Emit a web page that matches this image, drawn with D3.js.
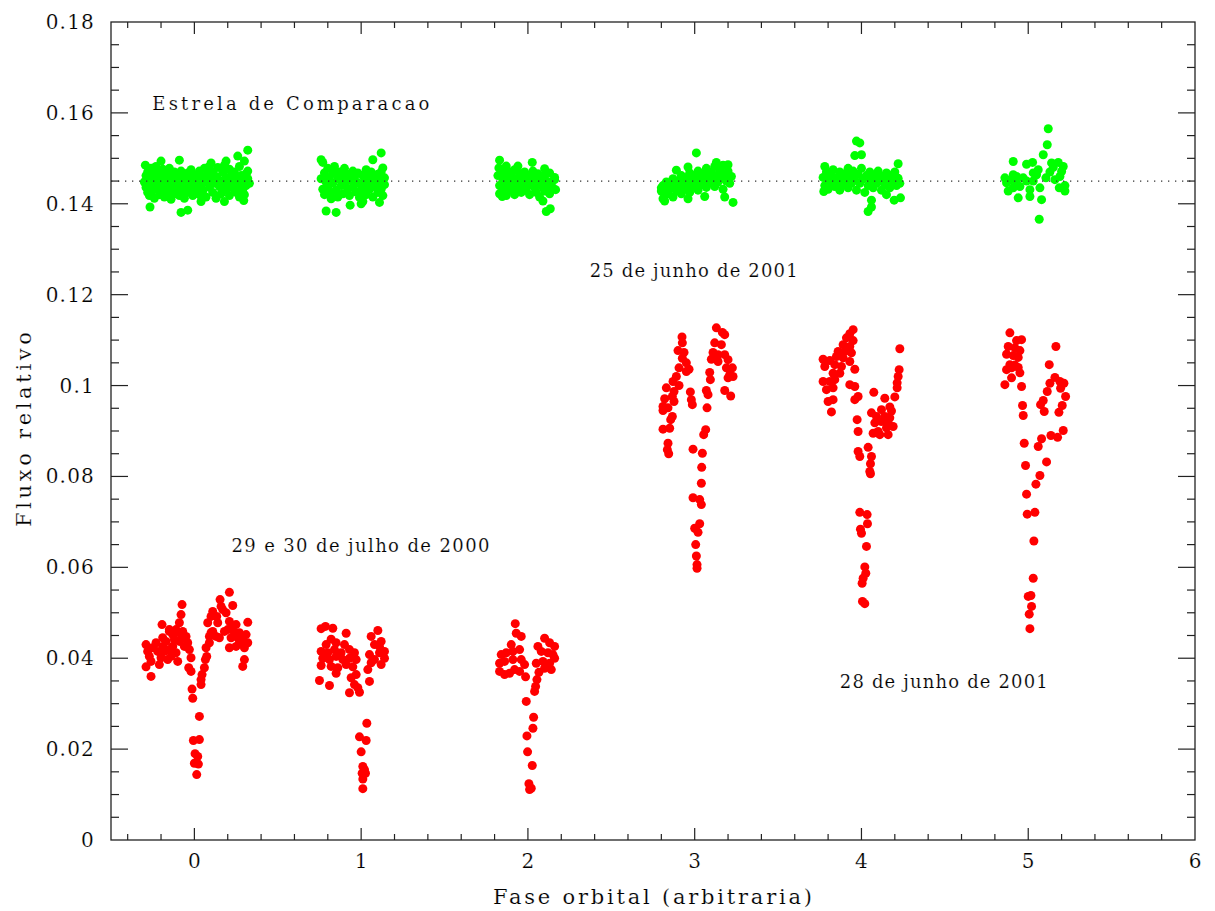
<!DOCTYPE html>
<html>
<head>
<meta charset="utf-8">
<script src="https://cdn.jsdelivr.net/npm/d3@7"></script>
<style>
  html, body { margin: 0; padding: 0; background: #fff; }
  svg text { font-family: "DejaVu Serif", "Liberation Serif", serif; fill: #000; stroke: #fff; stroke-width: 0.18px; }
</style>
</head>
<body>
<svg id="chart" width="1215" height="911"></svg>
<script>
// Axis ticks
const phaseTicks = [0, 1, 2, 3, 4, 5, 6];
const fluxTicks = [0, 0.02, 0.04, 0.06, 0.08, 0.1, 0.12, 0.14, 0.16, 0.18];
const fluxTickLabels = ["0", "0.02", "0.04", "0.06", "0.08", "0.1", "0.12", "0.14", "0.16", "0.18"];

// Mean level of the comparison star
const compLevel = 0.145;

// Comparison star, one cycle per array: [phase, relative flux]
const comp0 = [
  [-0.30,0.1448],[-0.29,0.1436],[-0.29,0.1462],[-0.28,0.1425],[-0.28,0.1470],[-0.27,0.1452],[-0.27,0.1418],[-0.26,0.1440],
  [-0.26,0.1478],[-0.25,0.1430],[-0.25,0.1458],[-0.24,0.1467],[-0.24,0.1412],[-0.23,0.1445],[-0.23,0.1482],[-0.22,0.1433],
  [-0.22,0.1455],[-0.21,0.1420],[-0.21,0.1470],[-0.20,0.1442],[-0.20,0.1460],[-0.19,0.1428],[-0.19,0.1476],[-0.18,0.1450],
  [-0.18,0.1415],[-0.17,0.1438],[-0.17,0.1465],[-0.16,0.1425],[-0.16,0.1455],[-0.15,0.1445],[-0.15,0.1478],[-0.14,0.1432],
  [-0.14,0.1410],[-0.13,0.1460],[-0.13,0.1440],[-0.12,0.1470],[-0.12,0.1422],[-0.11,0.1450],[-0.10,0.1435],[-0.10,0.1465],
  [-0.09,0.1418],[-0.08,0.1448],[-0.08,0.1472],[-0.07,0.1430],[-0.06,0.1458],[-0.06,0.1412],[-0.05,0.1442],[-0.04,0.1468],
  [-0.04,0.1425],[-0.03,0.1452],[-0.02,0.1436],[-0.02,0.1475],[-0.01,0.1418],[0.00,0.1446],[0.00,0.1462],[0.01,0.1430],
  [0.02,0.1455],[0.03,0.1472],[0.03,0.1420],[0.04,0.1440],[0.05,0.1460],[0.05,0.1428],[0.06,0.1478],[0.07,0.1448],
  [0.07,0.1415],[0.08,0.1466],[0.09,0.1436],[0.09,0.1482],[0.10,0.1455],[0.11,0.1425],[0.11,0.1470],[0.12,0.1445],
  [0.13,0.1460],[0.13,0.1412],[0.14,0.1480],[0.15,0.1438],[0.15,0.1452],[0.16,0.1422],[0.17,0.1470],[0.17,0.1446],
  [0.18,0.1485],[0.19,0.1430],[0.19,0.1458],[0.20,0.1442],[0.21,0.1476],[0.21,0.1418],[0.22,0.1462],[0.23,0.1435],
  [0.23,0.1450],[0.24,0.1470],[0.25,0.1425],[0.25,0.1456],[0.26,0.1440],[0.27,0.1482],[0.27,0.1415],[0.28,0.1462],
  [0.29,0.1432],[0.29,0.1450],[0.30,0.1420],[0.31,0.1466],[0.31,0.1440],[0.32,0.1455],[0.33,0.1445],
  [0.32,0.1518],[0.26,0.1505],[0.30,0.1494],[-0.09,0.1496],[-0.294,0.1485],[-0.266,0.1393],[-0.08,0.1381],[-0.04,0.1386],
  [0.18,0.1405],[0.296,0.1407],[0.04,0.1405],[0.10,0.1490],[0.19,0.1494],[-0.20,0.1494],[0.32,0.1472]
];
const comp1 = [
  [0.76,0.1455],[0.77,0.1432],[0.78,0.1468],[0.78,0.1420],[0.79,0.1448],[0.80,0.1478],[0.80,0.1438],[0.81,0.1458],
  [0.82,0.1425],[0.83,0.1468],[0.83,0.1445],[0.84,0.1482],[0.85,0.1430],[0.86,0.1455],[0.86,0.1415],[0.87,0.1470],
  [0.88,0.1440],[0.89,0.1460],[0.89,0.1422],[0.90,0.1478],[0.91,0.1448],[0.92,0.1432],[0.92,0.1465],[0.93,0.1418],
  [0.94,0.1452],[0.95,0.1472],[0.95,0.1436],[0.96,0.1458],[0.97,0.1426],[0.98,0.1446],[0.98,0.1468],[0.99,0.1414],
  [1.00,0.1440],[1.01,0.1462],[1.01,0.1428],[1.02,0.1450],[1.03,0.1475],[1.03,0.1420],[1.04,0.1442],[1.05,0.1460],
  [1.05,0.1432],[1.06,0.1470],[1.07,0.1448],[1.07,0.1415],[1.08,0.1458],[1.09,0.1436],[1.10,0.1465],[1.10,0.1425],
  [1.11,0.1448],[1.12,0.1470],[1.12,0.1432],[1.13,0.1455],[1.13,0.1418],[1.14,0.1442],
  [0.76,0.1497],[0.77,0.1491],[1.12,0.1512],[1.07,0.1497],[1.13,0.1479],[0.79,0.1384],[0.85,0.1381],[0.934,0.1397],
  [1.01,0.1405],[1.00,0.1400],[1.11,0.1403],[0.82,0.1411],[1.14,0.1457]
];
const comp2 = [
  [1.82,0.1462],[1.83,0.1440],[1.83,0.1422],[1.84,0.1470],[1.85,0.1450],[1.85,0.1432],[1.86,0.1460],[1.87,0.1440],
  [1.87,0.1418],[1.88,0.1472],[1.89,0.1452],[1.90,0.1430],[1.90,0.1465],[1.91,0.1445],[1.92,0.1420],[1.92,0.1475],
  [1.93,0.1455],[1.94,0.1435],[1.95,0.1466],[1.95,0.1448],[1.96,0.1425],[1.97,0.1458],[1.98,0.1440],[1.98,0.1470],
  [1.99,0.1430],[2.00,0.1450],[2.01,0.1462],[2.01,0.1420],[2.02,0.1442],[2.03,0.1472],[2.04,0.1435],[2.04,0.1455],
  [2.05,0.1425],[2.06,0.1466],[2.07,0.1445],[2.07,0.1415],[2.08,0.1458],[2.09,0.1436],[2.10,0.1462],[2.10,0.1428],
  [2.11,0.1450],[2.12,0.1440],[2.13,0.1468],[2.13,0.1422],[2.14,0.1448],[2.15,0.1435],[2.16,0.1458],
  [1.83,0.1496],[1.826,0.1479],[1.87,0.1483],[1.94,0.1483],[2.026,0.1491],[2.10,0.1477],[2.11,0.1383],[2.134,0.1389],
  [2.09,0.1406],[1.846,0.1416],[2.16,0.1453],[2.166,0.1431]
];
const comp3 = [
  [2.80,0.1428],[2.81,0.1440],[2.82,0.1418],[2.83,0.1448],[2.83,0.1430],[2.84,0.1422],[2.85,0.1445],[2.86,0.1435],
  [2.87,0.1455],[2.87,0.1415],[2.88,0.1440],[2.89,0.1428],[2.90,0.1450],[2.91,0.1436],[2.92,0.1462],[2.92,0.1422],
  [2.93,0.1445],[2.94,0.1432],[2.95,0.1458],[2.96,0.1440],[2.97,0.1468],[2.97,0.1425],[2.98,0.1450],[2.99,0.1438],
  [3.00,0.1462],[3.01,0.1445],[3.02,0.1472],[3.02,0.1430],[3.03,0.1455],[3.04,0.1442],[3.05,0.1466],[3.06,0.1450],
  [3.07,0.1478],[3.07,0.1436],[3.08,0.1460],[3.09,0.1446],[3.10,0.1470],[3.11,0.1455],[3.12,0.1482],[3.12,0.1438],
  [3.13,0.1462],[3.14,0.1448],[3.15,0.1475],[3.16,0.1456],[3.17,0.1485],[3.17,0.1432],[3.18,0.1465],[3.19,0.1450],
  [3.20,0.1472],[3.21,0.1445],[3.22,0.1460],
  [3.01,0.1512],[2.89,0.1474],[2.96,0.1481],[3.13,0.1491],[3.20,0.1486],[2.81,0.1411],[2.82,0.1406],[2.96,0.1411],
  [3.06,0.1416],[3.18,0.1415],[3.23,0.1403],[2.80,0.1435]
];
const comp4 = [
  [3.77,0.1458],[3.78,0.1440],[3.79,0.1470],[3.80,0.1450],[3.80,0.1432],[3.81,0.1462],[3.82,0.1445],[3.83,0.1475],
  [3.84,0.1438],[3.85,0.1458],[3.86,0.1448],[3.87,0.1470],[3.87,0.1430],[3.88,0.1455],[3.89,0.1442],[3.90,0.1466],
  [3.91,0.1450],[3.92,0.1478],[3.92,0.1435],[3.93,0.1460],[3.94,0.1445],[3.95,0.1472],[3.96,0.1452],[3.97,0.1430],
  [3.98,0.1465],[3.99,0.1445],[4.00,0.1478],[4.01,0.1455],[4.02,0.1425],[4.03,0.1462],[4.04,0.1440],[4.05,0.1470],
  [4.06,0.1452],[4.07,0.1435],[4.08,0.1462],[4.09,0.1445],[4.10,0.1472],[4.11,0.1450],[4.12,0.1430],[4.13,0.1460],
  [4.14,0.1442],[4.15,0.1468],[4.16,0.1452],[4.17,0.1435],[4.18,0.1462],[4.19,0.1448],[4.20,0.1470],[4.21,0.1440],
  [4.22,0.1456],[4.23,0.1445],
  [3.97,0.1538],[3.99,0.1534],[3.96,0.1506],[4.00,0.1508],[4.22,0.1488],[4.04,0.1383],[4.06,0.1393],[4.06,0.1408],
  [4.196,0.1408],[4.234,0.1413],[4.15,0.1420],[3.78,0.1482],[3.774,0.1427]
];
const comp5 = [
  [5.12,0.1565],[5.114,0.1530],[5.09,0.1508],[4.91,0.1493],[5.026,0.1491],[4.99,0.1487],[5.14,0.1490],[5.18,0.1491],
  [5.21,0.1482],[5.20,0.1471],[5.16,0.1453],[5.106,0.1457],[5.07,0.1435],[5.186,0.1435],[5.22,0.1428],[5.066,0.1366],
  [5.08,0.1409],[4.94,0.1413],[5.01,0.1416],[4.88,0.1428],[4.86,0.1457],[4.87,0.1446],[4.91,0.1464],[4.93,0.1460],
  [4.95,0.1438],[4.99,0.1450],[5.03,0.1450],[5.05,0.1464],[5.01,0.1431],[4.91,0.1435],[4.97,0.1457],[4.93,0.1446],
  [5.06,0.1475],[5.03,0.1468],[5.13,0.1470],[5.15,0.1480],[5.19,0.1460],[5.22,0.1440],[4.89,0.1452]
];

// Target light curve, one cycle per array: [phase, relative flux]
const targ0 = [
  [-0.29,0.0430],[-0.28,0.0415],[-0.27,0.0404],[-0.26,0.0393],[-0.29,0.0381],[-0.26,0.0360],[-0.25,0.0423],[-0.23,0.0434],
  [-0.22,0.0415],[-0.21,0.0386],[-0.20,0.0401],[-0.19,0.0445],[-0.19,0.0426],[-0.18,0.0415],[-0.17,0.0437],[-0.16,0.0397],
  [-0.15,0.0463],[-0.15,0.0419],[-0.14,0.0404],[-0.13,0.0452],[-0.13,0.0426],[-0.12,0.0441],[-0.11,0.0463],[-0.11,0.0412],
  [-0.10,0.0393],[-0.09,0.0437],[-0.08,0.0452],[-0.07,0.0445],[-0.06,0.0426],[-0.05,0.0448],[-0.04,0.0434],[-0.03,0.0419],
  [-0.02,0.0401],[-0.034,0.0379],[-0.02,0.0371],[-0.074,0.0518],[-0.08,0.0496],[-0.09,0.0478],[-0.194,0.0474],[-0.07,0.0459],
  [-0.15,0.0459],
  [-0.014,0.0332],[-0.01,0.0312],[0.03,0.0272],[-0.006,0.0219],[0.03,0.0221],[0.004,0.0190],[0.02,0.0184],[0.00,0.0169],
  [0.024,0.0167],[0.014,0.0144],
  [0.04,0.0342],[0.04,0.0353],[0.046,0.0364],[0.06,0.0379],[0.066,0.0397],[0.074,0.0404],[0.07,0.0423],[0.09,0.0434],
  [0.09,0.0448],[0.10,0.0456],[0.08,0.0478],[0.10,0.0492],[0.11,0.0503],[0.134,0.0492],[0.14,0.0478],[0.154,0.0529],
  [0.17,0.0507],[0.16,0.0514],[0.19,0.0500],[0.21,0.0545],[0.23,0.0516],[0.21,0.0481],[0.23,0.0470],[0.25,0.0474],
  [0.27,0.0456],[0.22,0.0445],[0.21,0.0423],[0.25,0.0426],[0.27,0.0434],[0.29,0.0441],[0.30,0.0423],[0.32,0.0479],
  [0.32,0.0434],[0.31,0.0452],[0.30,0.0397],[0.29,0.0382],[0.13,0.0448],[0.15,0.0445],[0.11,0.0459],[0.18,0.0459],
  [0.20,0.0463],[0.24,0.0456],[0.26,0.0445]
];
const targ1 = [
  [0.76,0.0465],[0.786,0.0470],[0.83,0.0466],[0.91,0.0455],[1.10,0.0461],[1.06,0.0448],[1.12,0.0437],[0.82,0.0442],
  [0.79,0.0430],[0.85,0.0434],[0.90,0.0430],[0.76,0.0415],[0.80,0.0412],[0.84,0.0419],[0.88,0.0412],[0.93,0.0419],
  [0.96,0.0412],[0.77,0.0400],[0.81,0.0397],[0.85,0.0404],[0.89,0.0397],[0.93,0.0400],[0.97,0.0397],[0.76,0.0384],
  [0.82,0.0382],[0.86,0.0379],[0.91,0.0386],[0.95,0.0381],[0.85,0.0367],[0.75,0.0351],[0.81,0.0340],[0.94,0.0357],
  [0.97,0.0364],[0.96,0.0342],[0.93,0.0324],[0.99,0.0325],[0.98,0.0335],[1.05,0.0349],[1.04,0.0375],[1.05,0.0408],
  [1.08,0.0430],[1.11,0.0412],[1.14,0.0415],[1.08,0.0397],[1.12,0.0386],[1.06,0.0390],[1.14,0.0400],[1.11,0.0426],
  [1.034,0.0257],[0.99,0.0227],[1.03,0.0219],[1.00,0.0194],[1.01,0.0162],[1.02,0.0155],[1.006,0.0147],[1.026,0.0147],
  [1.01,0.0134],[1.01,0.0113]
];
const targ2 = [
  [1.924,0.0476],[1.93,0.0455],[1.96,0.0448],[1.90,0.0430],[1.84,0.0408],[1.87,0.0412],[1.91,0.0415],[1.95,0.0419],
  [1.83,0.0389],[1.86,0.0393],[1.91,0.0397],[1.96,0.0397],[1.98,0.0386],[1.83,0.0371],[1.86,0.0364],[1.89,0.0367],
  [1.92,0.0375],[1.95,0.0371],[1.986,0.0359],[2.10,0.0444],[2.06,0.0426],[2.13,0.0434],[2.16,0.0426],[2.08,0.0415],
  [2.12,0.0412],[2.15,0.0408],[2.05,0.0389],[2.09,0.0393],[2.13,0.0389],[2.16,0.0400],[2.10,0.0378],[2.14,0.0375],
  [2.066,0.0369],[2.054,0.0353],[2.046,0.0338],[2.04,0.0327],
  [1.99,0.0305],[2.034,0.0270],[2.03,0.0246],[1.994,0.0229],[1.998,0.0194],[2.026,0.0164],[2.006,0.0124],[2.01,0.0111],
  [2.02,0.0114]
];
const targ3 = [
  [2.924,0.1107],[2.926,0.1094],[2.90,0.1077],[2.936,0.1073],[2.926,0.1060],[2.95,0.1050],[2.906,0.1039],[2.966,0.1036],
  [2.89,0.1020],[2.95,0.1031],[2.87,0.1009],[2.906,0.1000],[2.83,0.0995],[2.876,0.0987],[2.866,0.0976],[2.82,0.0971],
  [2.876,0.0965],[2.81,0.0954],[2.84,0.0951],[2.81,0.0945],[2.866,0.0932],[2.856,0.0925],[2.81,0.0904],[2.85,0.0906],
  [2.84,0.0873],[2.836,0.0859],[2.844,0.0850],
  [3.13,0.1127],[3.166,0.1117],[3.18,0.1112],[3.12,0.1094],[3.16,0.1090],[3.11,0.1073],[3.14,0.1068],[3.18,0.1068],
  [3.10,0.1058],[3.14,0.1053],[3.20,0.1057],[3.19,0.1039],[3.226,0.1039],[3.21,0.1024],[3.23,0.1020],[3.20,0.1017],
  [3.09,0.1029],[3.094,0.1013],[3.18,0.0989],[3.216,0.0977],
  [2.974,0.0986],[2.98,0.0969],[2.986,0.0958],[3.07,0.0989],[3.08,0.0980],[3.074,0.0951],[3.066,0.0903],[3.054,0.0892],
  [2.99,0.0860],[3.046,0.0851],[3.042,0.0820],[3.04,0.0785],[2.99,0.0753],[3.03,0.0749],[3.04,0.0738],[3.03,0.0696],
  [3.00,0.0686],[3.02,0.0677],[3.006,0.0650],[3.01,0.0625],[3.014,0.0606],[3.014,0.0598]
];
const targ4 = [
  [3.95,0.1123],[3.93,0.1114],[3.91,0.1105],[3.95,0.1099],[3.89,0.1090],[3.93,0.1086],[3.86,0.1075],[3.90,0.1075],
  [3.94,0.1072],[3.85,0.1064],[3.89,0.1061],[3.77,0.1058],[3.81,0.1055],[3.93,0.1053],[3.78,0.1042],[3.84,0.1046],
  [3.88,0.1042],[3.96,0.1036],[3.83,0.1027],[3.87,0.1027],[3.77,0.1009],[3.81,0.1009],[3.84,0.1013],[3.79,0.0991],
  [3.83,0.0995],[3.93,0.1002],[3.96,0.0998],[3.80,0.0965],[3.83,0.0969],[3.96,0.0969],[3.98,0.0976],[3.82,0.0942],
  [3.974,0.0925],[3.98,0.0899],[3.98,0.0855],[3.99,0.0844],[4.04,0.0864],[4.06,0.0844],[4.054,0.0828],[4.05,0.0811],
  [4.054,0.0806],[3.99,0.0721],[4.034,0.0716],[4.036,0.0696],[3.994,0.0684],[4.00,0.0675],[4.03,0.0646],[4.02,0.0601],
  [4.026,0.0587],[4.01,0.0576],[4.004,0.0565],[4.006,0.0525],[4.02,0.0520],
  [4.23,0.1081],[4.226,0.1035],[4.22,0.1020],[4.214,0.1006],[4.214,0.0995],[4.20,0.0975],[4.074,0.0985],[4.14,0.0972],
  [4.06,0.0940],[4.12,0.0947],[4.17,0.0953],[4.18,0.0944],[4.09,0.0932],[4.14,0.0932],[4.17,0.0929],[4.08,0.0918],
  [4.12,0.0921],[4.16,0.0918],[4.19,0.0910],[4.07,0.0895],[4.10,0.0899],[4.15,0.0907],[4.11,0.0892],[4.16,0.0892]
];
const targ5 = [
  [4.89,0.1116],[4.93,0.1099],[4.96,0.1101],[4.88,0.1086],[4.92,0.1083],[4.95,0.1077],[4.87,0.1069],[4.91,0.1066],
  [4.94,0.1062],[4.89,0.1046],[4.92,0.1045],[4.87,0.1035],[4.90,0.1039],[4.94,0.1040],[4.95,0.1028],[4.90,0.1017],
  [4.86,0.1002],[4.96,0.0998],[4.966,0.0956],[4.97,0.0934],[4.976,0.0873],[5.06,0.0866],[5.08,0.0883],[4.984,0.0824],
  [5.11,0.0832],[5.07,0.0802],[5.046,0.0783],[4.99,0.0761],[4.994,0.0717],[5.04,0.0721],[5.034,0.0658],[5.03,0.0576],
  [5.00,0.0536],[5.016,0.0538],[5.02,0.0514],[5.006,0.0497],[5.01,0.0465],
  [5.166,0.1086],[5.126,0.1046],[5.16,0.1018],[5.13,0.1005],[5.19,0.1009],[5.214,0.1005],[5.194,0.0994],[5.114,0.0987],
  [5.224,0.0976],[5.09,0.0967],[5.074,0.0958],[5.204,0.0956],[5.096,0.0943],[5.184,0.0941],[5.21,0.0901],[5.136,0.0890],
  [5.176,0.0886]
];

const compSeries = [comp0, comp1, comp2, comp3, comp4, comp5];
const targSeries = [targ0, targ1, targ2, targ3, targ4, targ5];

// Annotations: text with the phase / flux where the text starts
const notes = [
  { text: "Estrela de Comparacao", phase: -0.252, flux: 0.1607, width: 277 },
  { text: "25 de junho de 2001", phase: 2.37, flux: 0.1238, width: 208 },
  { text: "29 e 30 de julho de 2000", phase: 0.222, flux: 0.0634, width: 258 },
  { text: "28 de junho de 2001", phase: 3.87, flux: 0.0335, width: 208 }
];

// ---- layout ----
const svg = d3.select("#chart");
const margin = { left: 111, right: 20, top: 22, bottom: 71 };
const W = 1215, H = 911;
const x0 = margin.left, x1 = W - margin.right, y0 = H - margin.bottom, y1 = margin.top;

const x = d3.scaleLinear().domain([-0.5, 6]).range([x0, x1]);
const y = d3.scaleLinear().domain([0, 0.18]).range([y0, y1]);

const phaseMinor = d3.range(-0.4, 6.0001, 0.2).map(v => +v.toFixed(2));
const fluxMinor = d3.range(0, 0.18001, 0.005).map(v => +v.toFixed(3));

const axisColor = "#222";
const dotR = 4.5;

// Points: comparison star (green) and target (red)
const pts = svg.append("g");
compSeries.forEach(s => {
  pts.append("g").selectAll("circle").data(s).join("circle")
    .attr("cx", d => x(d[0])).attr("cy", d => y(d[1])).attr("r", dotR)
    .attr("fill", "#00ff00");
});
targSeries.forEach(s => {
  pts.append("g").selectAll("circle").data(s).join("circle")
    .attr("cx", d => x(d[0])).attr("cy", d => y(d[1])).attr("r", dotR)
    .attr("fill", "#ff0000");
});

// Mean level of the comparison star
svg.append("line")
  .attr("x1", x0).attr("x2", x1)
  .attr("y1", y(compLevel)).attr("y2", y(compLevel))
  .attr("stroke", "#333").attr("stroke-width", 1.2)
  .attr("stroke-dasharray", "1.3,5.7");

// Frame
svg.append("rect")
  .attr("x", x0).attr("y", y1).attr("width", x1 - x0).attr("height", y0 - y1)
  .attr("fill", "none").attr("stroke", axisColor).attr("stroke-width", 1.3);

// Inward ticks on all four sides
const tickG = svg.append("g").attr("stroke", axisColor).attr("stroke-width", 1.2);
phaseMinor.forEach(v => {
  const major = phaseTicks.includes(v) || Math.abs(v - Math.round(v)) < 1e-6;
  const len = major ? 12 : 6;
  const px = x(v);
  if (px <= x0 + 0.5 || px >= x1 - 0.5) return;
  tickG.append("line").attr("x1", px).attr("x2", px).attr("y1", y0).attr("y2", y0 - len);
  tickG.append("line").attr("x1", px).attr("x2", px).attr("y1", y1).attr("y2", y1 + len);
});
fluxMinor.forEach(v => {
  const major = fluxTicks.some(t => Math.abs(t - v) < 1e-9);
  const len = major ? 17 : 8;
  const py = y(v);
  if (py <= y1 + 0.5 || py >= y0 - 0.5) return;
  tickG.append("line").attr("x1", x0).attr("x2", x0 + len).attr("y1", py).attr("y2", py);
  tickG.append("line").attr("x1", x1).attr("x2", x1 - len).attr("y1", py).attr("y2", py);
});

// Tick labels
svg.append("g").selectAll("text").data(phaseTicks).join("text")
  .attr("x", d => x(d)).attr("y", y0 + 28)
  .attr("text-anchor", "middle").attr("font-size", 20)
  .text(d => d);

svg.append("g").selectAll("text").data(fluxTicks).join("text")
  .attr("x", x0 - 16).attr("y", d => y(d) + 7)
  .attr("text-anchor", "end").attr("font-size", 20)
  .attr("letter-spacing", 1.2)
  .text((d, i) => fluxTickLabels[i]);

// Axis titles
svg.append("text")
  .attr("x", 493).attr("y", 904)
  .attr("font-size", 21)
  .attr("textLength", 319).attr("lengthAdjust", "spacing")
  .text("Fase orbital (arbitraria)");

svg.append("text")
  .attr("transform", "translate(31,527) rotate(-90)")
  .attr("font-size", 21)
  .attr("textLength", 195).attr("lengthAdjust", "spacing")
  .text("Fluxo relativo");

// Annotations
svg.append("g").selectAll("text").data(notes).join("text")
  .attr("x", d => x(d.phase)).attr("y", d => y(d.flux))
  .attr("font-size", 18)
  .attr("textLength", d => d.width).attr("lengthAdjust", "spacing")
  .text(d => d.text);
</script>
</body>
</html>
